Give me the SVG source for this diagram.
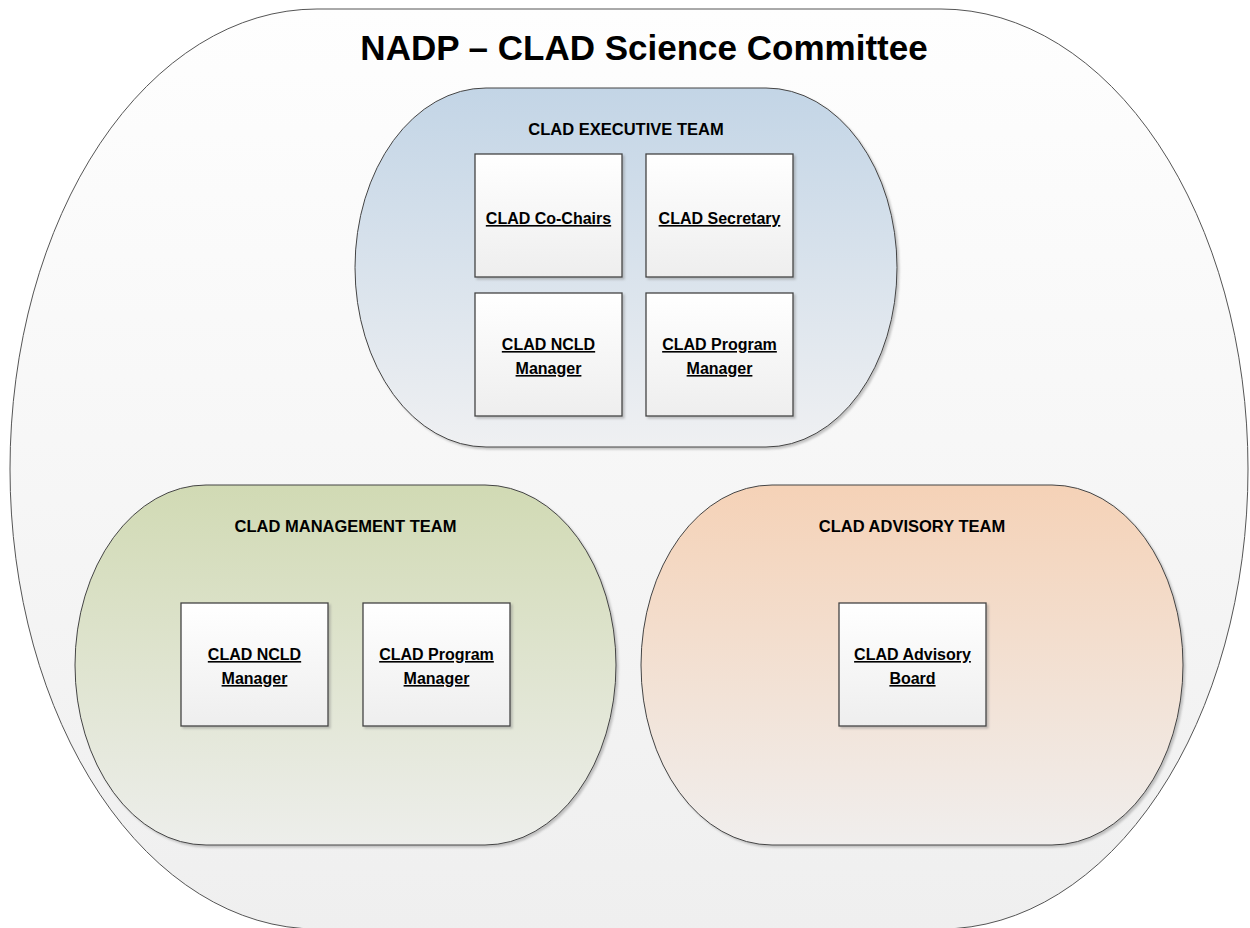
<svg xmlns="http://www.w3.org/2000/svg" width="1250" height="928" viewBox="0 0 1250 928">
<defs>
<linearGradient id="gOuter" x1="0" y1="0" x2="0" y2="1"><stop offset="0" stop-color="#fefefe"/><stop offset="1" stop-color="#efefef"/></linearGradient>
<linearGradient id="gExec" x1="0" y1="0" x2="0" y2="1"><stop offset="0" stop-color="#c3d5e6"/><stop offset="1" stop-color="#eff0f2"/></linearGradient>
<linearGradient id="gMgmt" x1="0" y1="0" x2="0" y2="1"><stop offset="0" stop-color="#d1dab4"/><stop offset="1" stop-color="#edeeeb"/></linearGradient>
<linearGradient id="gAdv" x1="0" y1="0" x2="0" y2="1"><stop offset="0" stop-color="#f5d2b7"/><stop offset="1" stop-color="#f0eeed"/></linearGradient>
<linearGradient id="gBox" x1="0" y1="0" x2="0" y2="1"><stop offset="0" stop-color="#ffffff"/><stop offset="1" stop-color="#eeeeee"/></linearGradient>
<filter id="sh" x="-5%" y="-5%" width="110%" height="110%"><feDropShadow dx="2" dy="2" stdDeviation="1" flood-color="#808080" flood-opacity="0.45"/></filter>
</defs>
<style>
.outer{fill:url(#gOuter);stroke:#555;stroke-width:1;}
.team{stroke:#444;stroke-width:1;filter:url(#sh);}
.box{fill:url(#gBox);stroke:#444;stroke-width:1.3;filter:url(#sh);}
text{font-family:"Liberation Sans",Arial,sans-serif;font-weight:bold;fill:#000;text-anchor:middle;}
.title{font-size:35px;}
.lbl{font-size:16.5px;}
.bt{font-size:16px;text-decoration:underline;}
</style>
<g id="committee">
<rect class="outer" x="10" y="9" width="1238" height="920" rx="307" ry="460"/>
<text class="title" x="644" y="60">NADP – CLAD Science Committee</text>
</g>
<g id="executive-team">
<rect class="team" fill="url(#gExec)" x="355" y="88" width="542" height="359" rx="131" ry="179.5"/>
<text class="lbl" x="626" y="135">CLAD EXECUTIVE TEAM</text>
</g>
<g id="exec-cochairs">
<rect class="box" x="475" y="154" width="147" height="123"/>
<text class="bt" x="548.5" y="224">CLAD Co-Chairs</text>
</g>
<g id="exec-secretary">
<rect class="box" x="646" y="154" width="147" height="123"/>
<text class="bt" x="719.5" y="224">CLAD Secretary</text>
</g>
<g id="exec-ncld">
<rect class="box" x="475" y="293" width="147" height="123"/>
<text class="bt" x="548.5" y="350">CLAD NCLD</text>
<text class="bt" x="548.5" y="374">Manager</text>
</g>
<g id="exec-program">
<rect class="box" x="646" y="293" width="147" height="123"/>
<text class="bt" x="719.5" y="350">CLAD Program</text>
<text class="bt" x="719.5" y="374">Manager</text>
</g>
<g id="management-team">
<rect class="team" fill="url(#gMgmt)" x="75" y="485" width="541" height="360" rx="131" ry="180"/>
<text class="lbl" x="345.5" y="532">CLAD MANAGEMENT TEAM</text>
</g>
<g id="mgmt-ncld">
<rect class="box" x="181" y="603" width="147" height="123"/>
<text class="bt" x="254.5" y="660">CLAD NCLD</text>
<text class="bt" x="254.5" y="684">Manager</text>
</g>
<g id="mgmt-program">
<rect class="box" x="363" y="603" width="147" height="123"/>
<text class="bt" x="436.5" y="660">CLAD Program</text>
<text class="bt" x="436.5" y="684">Manager</text>
</g>
<g id="advisory-team">
<rect class="team" fill="url(#gAdv)" x="641" y="485" width="542" height="360" rx="131" ry="180"/>
<text class="lbl" x="912" y="532">CLAD ADVISORY TEAM</text>
</g>
<g id="adv-board">
<rect class="box" x="839" y="603" width="147" height="123"/>
<text class="bt" x="912.5" y="660">CLAD Advisory</text>
<text class="bt" x="912.5" y="684">Board</text>
</g>
<g id="connectors"/>
</svg>
